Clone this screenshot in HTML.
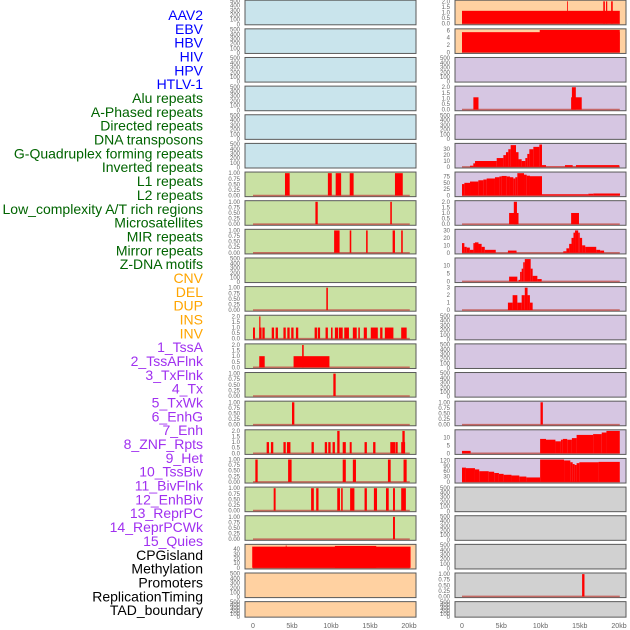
<!DOCTYPE html>
<html><head><meta charset="utf-8"><style>
html,body{margin:0;padding:0;background:#fff;width:630px;height:630px;overflow:hidden}
svg{display:block}
</style></head><body>
<svg id="chart" width="630" height="630" xmlns="http://www.w3.org/2000/svg"></svg>
<script>
// ---------- data ----------
const trackLabels = ["AAV2","EBV","HBV","HIV","HPV","HTLV-1","Alu repeats","A-Phased repeats","Directed repeats","DNA transposons","G-Quadruplex forming repeats","Inverted repeats","L1 repeats","L2 repeats","Low_complexity A/T rich regions","Microsatellites","MIR repeats","Mirror repeats","Z-DNA motifs","CNV","DEL","DUP","INS","INV","1_TssA","2_TssAFlnk","3_TxFlnk","4_Tx","5_TxWk","6_EnhG","7_Enh","8_ZNF_Rpts","9_Het","10_TssBiv","11_BivFlnk","12_EnhBiv","13_ReprPC","14_ReprPCWk","15_Quies","CPGisland","Methylation","Promoters","ReplicationTiming","TAD_boundary"];
const labelGroups = ["v","v","v","v","v","v","r","r","r","r","r","r","r","r","r","r","r","r","r","c","c","c","c","c","h","h","h","h","h","h","h","h","h","h","h","h","h","h","h","o","o","o","o","o"];
const xTickValues = [0,5,10,15,20];
const xTickLabels = ["0","5kb","10kb","15kb","20kb"];

const T500=[0,100,200,300,400,500], T500L=["0","100","200","300","400","500"];
const T1=[0,0.25,0.5,0.75,1], T1L=["0.00","0.25","0.50","0.75","1.00"];
const T2=[0,0.5,1,1.5,2], T2L=["0.0","0.5","1.0","1.5","2.0"];

const L6=[[4.1,4.7,1],[9.6,10.1,1],[10.6,11.3,1],[12.4,12.9,1],[18.2,19.2,1]];
const L7=[[8.0,8.3,1],[17.6,17.8,1]];
const L8=[[10.4,11.1,1],[12.4,12.6,1],[14.5,14.7,1],[17.9,18.2,1],[19.0,19.2,1]];
const L10=[[9.4,9.6,1]];
const L11=[[0,0.25,1],[0.8,1.1,1],[0.8,0.95,2],[1.2,1.5,1],[2.4,2.7,1],[2.9,3.2,1],[3.9,4.2,1],[4.4,4.7,1],[4.9,5.2,1],[5.5,5.8,1],[7.9,8.2,1],[8.3,8.6,1],[9.3,9.6,1],[10.0,10.2,1],[10.5,10.9,1],[11.0,11.5,1],[11.7,12.3,1],[12.8,13.3,1],[13.5,13.7,1],[14.2,14.6,1],[15.1,16.0,1],[16.3,16.6,1],[16.9,18.0,1],[19.0,19.7,1]];
const L12=[[0.8,1.5,1],[5.2,9.8,1],[6.3,6.5,2]];
const L13=[[10.3,10.6,1]];
const L14=[[5.0,5.3,1]];
const L15=[[1.75,2.05,1],[2.3,2.6,1],[3.9,4.2,1],[4.35,4.8,1],[7.5,7.8,1],[9.2,9.5,1],[9.65,9.95,1],[10.2,10.5,1],[10.8,11.1,2],[11.5,11.9,1],[12.4,12.65,1],[14.3,14.6,1],[15.4,15.7,1],[17.6,18.25,1],[18.3,18.55,1],[19.0,19.5,1],[19.15,19.45,2]];
const L16=[[0.3,0.6,1],[4.5,4.95,1],[11.5,11.9,1],[12.8,13.2,1],[17.3,17.65,1],[19.3,19.7,1]];
const L17=[[2.65,2.9,1],[7.45,7.8,1],[8.1,8.4,1],[10.8,11.15,1],[11.3,11.5,1],[12.45,13.0,1],[14.3,14.6,1],[15.5,15.9,1],[17.05,17.4,1],[17.95,18.2,1],[19.0,19.6,1]];
const L18=[[17.95,18.2,1]];
const L19=[[-0.1,20.2,45.5],[10.5,15.8,47],[4.2,4.3,48]];

const R0=[[0,20.1,1.15],[13.4,13.5,2],[18.0,18.2,2],[18.35,18.5,2],[19.0,19.2,2]];
const R1=[[0,20.1,5.5],[9.9,20.1,6.1]];
const R3=[[1.45,2.1,1.1],[13.9,15.25,1.1],[14.0,14.5,2]];
const R5=[[1.02,1.44,2],[1.44,1.66,6],[1.66,4.42,10],[4.42,5.27,15],[5.27,5.6,20],[5.6,5.9,25],[5.9,6.2,30],[6.2,6.88,37],[6.88,7.2,25],[7.2,7.6,13],[7.6,8.07,10],[8.07,8.32,15],[8.32,8.58,22],[8.58,9.09,30],[9.09,9.85,34],[9.85,10.19,38],[10.19,10.7,3],[10.7,13.12,0.5],[13.12,14.1,3],[14.1,14.52,0.5],[14.52,20.04,3]];
const R6=[[0,0.3,45],[0.3,1.02,50],[1.02,2.08,55],[2.08,2.72,60],[2.72,3.14,63],[3.14,4.2,67],[4.2,4.76,72],[4.76,5.05,75],[5.05,5.69,77],[5.69,6.11,75],[6.11,6.54,72],[6.54,6.79,67],[6.79,7.05,72],[7.05,7.9,88],[7.9,8.24,82],[8.24,8.66,78],[8.66,10.19,76],[10.19,16.09,5],[16.09,16.73,7],[16.73,20.13,8]];
const R7=[[6.0,7.2,1],[6.6,7.0,2],[13.9,14.9,1]];
const R8=[[0,0.3,13],[0.3,0.6,8],[0.6,1.0,7],[1.0,1.45,4],[1.45,1.65,13],[1.65,2.1,14],[2.1,2.5,12],[2.5,2.9,8],[2.9,4.3,4],[5.85,6.95,3],[12.9,13.3,2],[13.3,13.65,6],[13.65,13.95,12],[13.95,14.2,20],[14.2,14.4,27],[14.4,14.8,30],[14.8,15.0,27],[15.0,15.3,20],[15.3,15.7,10],[15.7,17.1,8],[17.1,17.6,4],[17.6,18.1,3]];
const R9=[[6.0,7.05,3],[7.2,7.4,1],[7.4,7.6,6],[7.6,7.8,8],[7.8,8.0,12],[8.0,8.75,14],[8.75,9.0,8],[9.0,9.6,3.5],[9.6,10.15,1.5]];
const R10=[[5.85,6.45,1],[6.45,7.05,2],[7.05,7.6,1],[7.6,8.0,2],[8.0,8.35,3],[8.35,8.65,2],[8.65,9.0,1]];
const R14=[[10.0,10.3,1]];
const R15=[[0,1.1,1.5],[9.95,10.7,9],[10.7,11.9,8.5],[11.9,12.6,7.5],[12.6,12.85,8.5],[12.85,13.4,9],[13.4,14.0,8.5],[14.0,14.6,9.5],[14.6,16.7,11.5],[16.7,17.8,12],[17.8,18.4,13],[18.4,20.1,14]];
const R16=[[0,0.5,80],[0.5,1.65,77],[1.65,2.2,70],[2.2,3.4,60],[3.4,4.1,57],[4.1,4.7,50],[4.7,5.3,45],[5.3,6.3,40],[6.3,7.3,36],[7.3,8.2,30],[8.2,9.95,25],[9.95,13.0,125],[13.0,13.8,120],[13.8,14.1,110],[14.1,14.35,100],[14.35,14.6,95],[14.6,14.95,105],[14.95,17.4,110],[17.4,20.1,112]];
const R20=[[15.3,15.6,1]];

const leftPanels=[null,null,null,null,null,null,L6,L7,L8,null,L10,L11,L12,L13,L14,L15,L16,L17,L18,L19,null,null];
const leftTicks=[null,null,null,null,null,null,T1,T1,T1,null,T1,T2,T2,T1,T1,T2,T1,T1,T1,[0,10,20,30,40],null,null];
const leftTickLabels=[null,null,null,null,null,null,T1L,T1L,T1L,null,T1L,T2L,T2L,T1L,T1L,T2L,T1L,T1L,T1L,["0","10","20","30","40"],null,null];
const rightPanels=[R0,R1,null,R3,null,R5,R6,R7,R8,R9,R10,null,null,null,R14,R15,R16,null,null,null,R20,null];
const rightTicks=[T2,[0,2,4,6],null,T2,null,[0,10,20,30],[0,25,50,75],T2,[0,10,20,30],[0,5,10],[0,1,2,3],null,null,null,T1,[0,5,10],[0,30,60,90,120],null,null,null,T1,null];
const rightTickLabels=[T2L,["0","2","4","6"],null,T2L,null,["0","10","20","30"],["0","25","50","75"],T2L,["0","10","20","30"],["0","5","10"],["0","1","2","3"],null,null,null,T1L,["0","5","10"],["0","30","60","90","120"],null,null,null,T1L,null];

// ---------- drawing ----------
const NS="http://www.w3.org/2000/svg";
const svg=document.getElementById("chart");
function mk(tag,attrs,parent){const e=document.createElementNS(NS,tag);for(const k in attrs)e.setAttribute(k,attrs[k]);(parent||svg).appendChild(e);return e;}
const groupColor={v:"#0000ff",r:"#006400",c:"#ffa500",h:"#a030f0",o:"#000000"};

trackLabels.forEach((t,i)=>{
  const el=mk("text",{x:203,y:(20+i*13.84).toFixed(2),"text-anchor":"end","font-family":"Liberation Sans, sans-serif","font-size":"14",fill:groupColor[labelGroups[i]]});
  el.textContent=t;
  
  
});

const sides={
  L:{x0:245,x1:416,ox:253,sc:7.8,tx:240,data:leftPanels,ticks:leftTicks,tl:leftTickLabels},
  R:{x0:455,x1:626,ox:462,sc:7.85,tx:450,data:rightPanels,ticks:rightTicks,tl:rightTickLabels}
};
function bgColor(side,row){
  if(side==="L"){ if(row<6) return "#c9e4ec"; if(row<19) return "#c9e1a3"; return "#ffd1a1"; }
  if(row<2) return "#ffd1a1"; if(row<17) return "#d6c6e2"; return "#d1d1d1";
}
for(const s of ["L","R"]){
  const S=sides[s];
  for(let row=0;row<22;row++){
    const top=0.2+row*28.64, h=row===21?15.5:24.6;
    const g=mk("g",{});
    
    
    const bg=mk("rect",{x:S.x0,y:top,width:S.x1-S.x0,height:h,fill:bgColor(s,row),stroke:"#5a5a5a","stroke-width":1},g);
    
    
    const data=S.data[row];
    let ticks=S.ticks[row], labels=S.tl[row], ymin, ymax;
    if(!data){ ticks=T500; labels=T500L; ymin=-8; ymax=515; }
    else { const m=Math.max(...data.map(d=>d[2])); ymin=-0.05*m; ymax=1.05*m; }
    const yf=v=>top+h-(v-ymin)/(ymax-ymin)*h;
    const xf=k=>S.ox+k*S.sc;
    if(data){
      const bl=mk("line",{x1:xf(0),x2:xf(20.1),y1:yf(0),y2:yf(0),stroke:"#c0504a","stroke-width":1.6,"stroke-opacity":0.8},g);
      
      
      data.forEach(d=>{
        const r=mk("rect",{x:xf(d[0]).toFixed(2),y:yf(d[2]).toFixed(2),width:Math.max(0.8,xf(d[1])-xf(d[0])).toFixed(2),height:(yf(0)-yf(d[2])).toFixed(2),fill:"#ff0000"},g);
        
        
      });
    }
    ticks.forEach((v,i)=>{
      const t=mk("text",{x:S.tx,y:(yf(v)+2).toFixed(2),"text-anchor":"end","font-family":"Liberation Sans, sans-serif","font-size":"6",fill:"#666"},g);
      t.textContent=labels[i];
      
      
    });
  }
  xTickValues.forEach((v,i)=>{
    const t=mk("text",{x:S.ox+v*S.sc,y:628,"text-anchor":"middle","font-family":"Liberation Sans, sans-serif","font-size":"7",fill:"#666"});
    t.textContent=xTickLabels[i];
    
    
  });
}
</script>
</body></html>
